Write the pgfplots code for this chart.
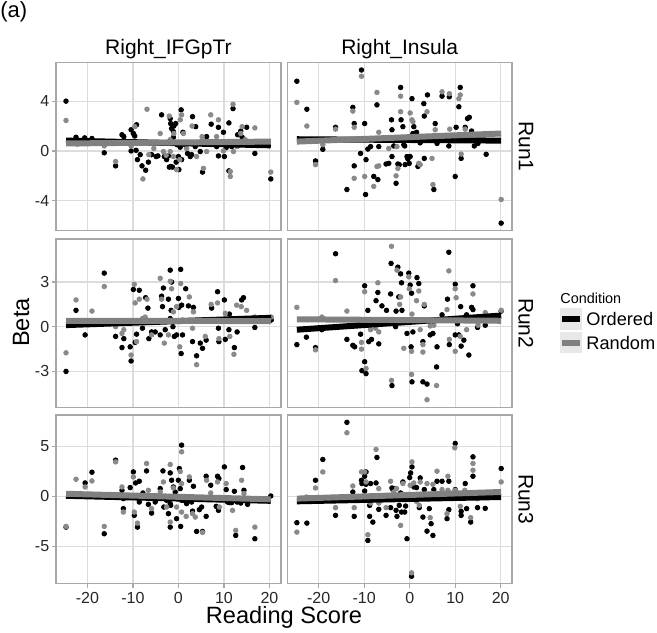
\documentclass[border=0pt]{standalone}
\usepackage{pgfplots}
\pgfplotsset{compat=1.18}
\usepackage{fontspec}
\setmainfont{Liberation Sans}
\definecolor{ptgray}{HTML}{8A8A8A}
\definecolor{lngray}{HTML}{808080}
\definecolor{bordergray}{HTML}{A8A8A8}
\definecolor{gridgray}{HTML}{DCDCDC}
\definecolor{keybg}{HTML}{E8E8E8}
\tikzset{runlab/.style={rotate=-90, yshift=6.9pt, anchor=center, font=\fontsize{10.5}{12}\selectfont}}
\pgfplotsset{
 panel/.style={scale only axis, width=112.4pt, height=84.15pt, xmin=-26.9, xmax=22.5, xtick={-20,-10,0,10,20},
   clip mode=individual,
   axis line style={draw=bordergray, line width=0.75pt},
   grid=major, major grid style={draw=gridgray, line width=0.6pt},
   tick style={draw=bordergray, line width=0.6pt}, tick align=outside, major tick length=2.2pt,
   xtick pos=bottom, ytick pos=left,
   ticklabel style={font=\fontsize{8}{9}\selectfont, text=black!85, inner sep=0pt},
   xticklabel shift=2.3pt, yticklabel shift=1pt,
   /pgf/number format/assume math mode=true},
 nox/.style={xticklabels={}, xtick style={draw=none}},
 noy/.style={yticklabels={}, ytick style={draw=none}},
 ord/.style={only marks, mark=*, mark size=1.15pt, draw=black, fill=black, mark options={draw=black, fill=black}},
 rnd/.style={only marks, mark=*, mark size=1.15pt, draw=ptgray, fill=ptgray, mark options={draw=ptgray, fill=ptgray}},
 ordl/.style={no marks, draw=black, line width=3pt},
 rndl/.style={no marks, draw=lngray, line width=3pt},
 row1/.style={ymin=-6.4, ymax=7.12, ytick={-4,0,4}},
 row2/.style={ymin=-5.41, ymax=5.89, ytick={-3,0,3}},
 row3/.style={ymin=-8.67, ymax=8.1, ytick={-5,0,5}},
}
\begin{document}
\begin{tikzpicture}
\path[use as bounding box] (0,0) rectangle (328.5pt,-316pt);
% ---------- Row 1, Right_IFGpTr
\begin{axis}[panel, row1, nox, at={(28pt,-31.15pt)}, anchor=north west]
\addplot[ord] coordinates {(-24.7,4.0) (-22.5,1.1) (-20.6,1.05) (-19.0,1.0) (-16.3,-0.15) (-13.8,-1.2) (-12.4,1.3) (-12.0,1.15) (-10.4,1.7) (-9.9,1.4) (-9.6,1.2) (-9.2,2.1) (-10.4,0) (-9.3,0.05) (-9.0,-0.7) (-8.4,-0.3) (-8.0,-1.2) (-7.2,-1.55) (-6.6,-0.9) (-5.9,-0.3) (-4.9,-0.45) (-3.7,2.9) (-3.1,-0.45) (-2.2,-0.4) (-1.8,2.6) (-1.7,2.2) (-1.5,1.8) (-1.1,1.55) (-1.0,2.0) (-0.6,2.2) (0.6,3.3) (0.4,0.3) (0.0,-0.45) (0.1,-1.5) (-0.5,-0.9) (-1.7,-1.25) (-2.6,-0.7) (-1.1,1.1) (0.7,-0.7) (3.1,2.75) (3.8,1.95) (3.7,0.35) (2.9,-0.3) (2.6,-0.45) (4.8,-0.05) (5.3,-1.7) (6.2,1.15) (7.2,2.15) (8.8,1.9) (8.8,-0.4) (8.4,0.35) (10.1,-0.45) (9.9,1.5) (11.1,2.25) (11.1,-1.6) (11.7,0.35) (12.0,3.4) (13.0,1.3) (13.7,1.6) (14.0,1.1) (15.0,1.9) (16.8,-0.2) (20.3,-2.25) (10.5,0.27) (13.0,0.4) (-2.0,-1.3) (-1.3,-1.3) (-0.3,0.5) (1.5,0.5) (2.0,-0.2) (-4.5,-0.4) (1.0,1.5)};
\addplot[rnd] coordinates {(-24.7,2.45) (-22.2,0.55) (-13.8,-0.85) (-12.0,0.6) (-9.6,1.95) (-7.8,-2.25) (-6.9,3.35) (-4.0,1.4) (-2.7,-0.35) (-1.8,0.9) (-0.4,-1.5) (0.4,2.5) (0.7,2.9) (-1.8,-0.05) (1.1,1.4) (3.0,2.0) (5.5,-1.4) (5.2,1.15) (7.1,2.9) (8.8,2.5) (11.4,-1.65) (11.4,-2.05) (12.0,3.75) (12.9,0.35) (14.0,1.95) (14.7,0.9) (16.8,1.85) (20.3,-1.7) (6.2,-0.05) (8.4,1.15) (12.1,-0.05) (4.0,-0.45) (-4.7,0.6) (-5.4,0.2) (-6.5,-0.3) (1.8,0.2) (-3.3,-0.05) (-1.1,-0.45) (0.3,-0.7) (-20.6,0.7) (-19.0,0.75) (-16.3,0.4) (-10.4,0.4) (-9.0,0.6) (-2.0,2.8) (-1.0,1.4) (2.5,0.6) (9.9,0.0) (13.7,1.4)};
\addplot[ordl] coordinates {(-24.7,0.83) (20.3,0.45)};
\addplot[rndl] coordinates {(-24.7,0.6) (20.3,0.75)};
\node[anchor=base, font=\fontsize{10.5}{12}\selectfont] at (rel axis cs:0.5,1) [yshift=4pt] {Right\_IFGpTr};
\end{axis}
% ---------- Row 1, Right_Insula
\begin{axis}[panel, row1, nox, noy, at={(143.65pt,-31.15pt)}, anchor=north west]
\addplot[ord] coordinates {(-24.8,5.6) (-22.6,3.35) (-20.7,-0.8) (-19.1,0.13) (-16.3,1.9) (-13.8,-3.1) (-12.5,3.5) (-12.2,2.2) (-12.2,-1.2) (-10.6,6.5) (-9.9,2.2) (-10.8,-0.2) (-9.6,-0.7) (-9.2,0.15) (-8.6,0.35) (-9.7,-3.5) (-7.9,-2.05) (-7.0,-2.3) (-7.2,3.7) (-6.8,0.35) (-5.2,-1.05) (-4.6,-1.0) (-4.0,2.5) (-3.9,1.7) (-3.5,0.4) (-3.1,0.9) (-3.0,-2.6) (-2.6,-1.05) (-2.3,-1.1) (-2.0,5.1) (-1.9,2.5) (-1.5,1.95) (-1.3,0.5) (-1.1,0.4) (-0.6,-0.45) (-0.4,-0.65) (0.1,-0.45) (0.5,4.2) (0.7,1.4) (0.9,1.95) (1.5,1.5) (1.8,-1.25) (2.3,0.65) (3.2,-0.6) (3.1,3.8) (3.2,2.8) (3.9,4.5) (5.6,2.2) (5.3,-3.1) (6.0,0.6) (7.1,4.4) (8.7,4.35) (8.6,0.4) (10.0,-2.05) (10.2,1.9) (10.8,3.55) (11.1,5.1) (11.3,-0.6) (12.2,1.9) (12.7,2.6) (13.1,2.7) (13.6,1.6) (14.2,0.4) (15.0,0.6) (16.8,-0.27) (20.1,-5.8) (-1.0,-1.1) (-0.1,-1.0) (-3.9,-0.45)};
\addplot[rnd] coordinates {(-24.8,3.9) (-22.6,2.0) (-20.7,-1.1) (-19.1,0.5) (-16.3,1.75) (-12.5,3.2) (-12.2,1.9) (-12.2,-2.2) (-10.6,6.0) (-9.9,-2.05) (-7.9,-2.85) (-7.2,4.7) (-6.8,1.5) (-7.2,-1.25) (-6.8,-1.2) (-4.6,0.2) (-3.0,-2.0) (-2.0,4.4) (-2.0,3.15) (-2.6,-1.4) (0.1,3.05) (0.5,2.5) (0.7,2.35) (2.0,-1.0) (2.3,-1.1) (3.8,3.15) (4.9,-0.6) (5.1,-2.7) (5.6,1.7) (7.1,4.75) (8.7,4.6) (8.8,1.75) (10.8,4.2) (11.1,4.5) (11.3,-0.25) (12.2,1.75) (20.1,-3.9) (-3.9,1.0) (-1.3,1.0) (1.2,0.9) (-2.8,0.35)};
\addplot[ordl] coordinates {(-24.8,0.94) (20.1,0.83)};
\addplot[rndl] coordinates {(-24.8,0.75) (20.1,1.4)};
\node[anchor=base, font=\fontsize{10.5}{12}\selectfont] at (rel axis cs:0.5,1) [yshift=4pt] {Right\_Insula};
\node[runlab] at (rel axis cs:1,0.5) {Run1};
\end{axis}
% ---------- Row 2, Right_IFGpTr
\begin{axis}[panel, row2, nox, at={(28pt,-119.5pt)}, anchor=north west]
\addplot[ord] coordinates {(-24.7,-3.0) (-22.5,1.1) (-20.5,-0.55) (-16.3,3.6) (-13.8,-0.65) (-12.4,-1.4) (-12.0,-0.8) (-10.6,-1.35) (-10.4,-2.3) (-9.9,2.5) (-9.5,-1.05) (-9.2,-0.5) (-8.6,2.45) (-7.9,-0.1) (-7.2,1.95) (-6.7,1.25) (-6.5,-0.8) (-5.9,-0.35) (-5.1,-0.35) (-4.0,-0.55) (-3.7,2.05) (-3.5,1.35) (-3.3,2.6) (-2.9,-0.2) (-2.2,1.85) (-1.8,3.8) (-1.5,3.0) (-1.8,0.55) (-1.6,1.1) (-1.2,0) (-0.9,-0.65) (-0.4,-0.55) (0,1.9) (0.1,1.3) (0.5,3.85) (0.6,-1.8) (0.9,-0.55) (0.7,1.45) (1.6,2.55) (2.2,1.4) (3.1,-1.0) (3.3,1.3) (4.0,-1.95) (4.8,-1.1) (5.3,-1.45) (6.1,-0.9) (7.3,1.25) (8.6,2.35) (8.8,-0.1) (8.9,-1.0) (10.1,1.8) (10.3,-0.85) (11.1,-0.2) (11.2,0.85) (12.3,-1.4) (12.9,-0.35) (13.9,1.8) (14.3,1.95) (16.8,-0.05) (20.4,0.45)};
\addplot[rnd] coordinates {(-24.7,-1.75) (-22.5,1.8) (-19.0,1.05) (-16.3,2.7) (-13.8,0) (-12.4,-0.45) (-12.0,-0.2) (-10.4,-1.9) (-9.7,2.85) (-9.5,1.6) (-9.2,-1.0) (-8.6,1.85) (-7.9,0.55) (-6.9,1.85) (-7.3,0.65) (-5.9,-0.55) (-4.0,3.25) (-3.7,1.85) (-3.1,-1.1) (-2.2,-0.55) (-1.8,3.05) (-1.5,2.55) (-1.1,1.0) (-0.4,1.35) (0.3,-1.35) (0.5,2.9) (0.9,0.45) (2.4,2.0) (3.1,-0.1) (3.3,1.0) (4.0,-2.55) (4.8,0.45) (5.9,-0.65) (7.2,1.5) (8.6,1.6) (8.9,-0.8) (10.3,0.9) (11.3,-0.65) (12.2,-1.85) (12.8,1.45) (13.8,1.35) (15.0,1.1) (16.8,0.65) (20.4,0.65)};
\addplot[ordl] coordinates {(-24.7,0.11) (20.4,0.6)};
\addplot[rndl] coordinates {(-24.7,0.4) (20.4,0.38)};
\end{axis}
% ---------- Row 2, Right_Insula
\begin{axis}[panel, row2, nox, noy, at={(143.65pt,-119.5pt)}, anchor=north west]
\addplot[ord] coordinates {(-24.8,-1.2) (-22.7,-0.7) (-20.7,-1.4) (-19.3,-0.2) (-16.3,4.9) (-13.8,-0.85) (-12.5,-1.25) (-12.1,-1.35) (-10.8,-0.5) (-10.5,-2.95) (-9.9,-2.35) (-9.6,-3.15) (-9.9,2.75) (-9.2,1.1) (-9.0,-1.0) (-8.4,-0.85) (-7.4,1.75) (-7.0,2.3) (-6.8,-1.15) (-6.1,1.4) (-5.1,1.1) (-4.2,2.2) (-4.1,4.25) (-3.9,-3.95) (-3.1,0) (-3.0,1.05) (-2.6,4.0) (-2.4,2.0) (-2.0,3.55) (-1.8,2.95) (-1.7,1.1) (-0.6,-0.45) (-0.2,3.6) (0.1,2.8) (0.3,-1.35) (0.5,-3.7) (0.7,-0.35) (0.4,2.25) (1.6,3.3) (2.0,2.9) (2.9,-1.0) (2.9,-3.7) (3.2,1.4) (3.8,-3.85) (4.5,-0.55) (5.1,-0.45) (5.9,-2.7) (6.0,-1.35) (7.1,0.8) (8.3,1.85) (8.6,5.0) (8.7,-1.2) (10.0,2.85) (10.0,-0.55) (10.5,0.2) (10.8,-0.55) (11.2,1.35) (11.3,-1.3) (11.9,-0.9) (12.5,0.8) (13.0,-1.9) (13.6,1.3) (13.9,2.75) (13.9,1.15) (14.9,-0.05) (16.6,0.1) (20.1,1.05)};
\addplot[rnd] coordinates {(-24.8,1.3) (-20.7,-1.55) (-19.3,0.65) (-16.3,3.1) (-13.8,1.05) (-10.6,-1.05) (-10.6,-1.5) (-9.9,2.35) (-9.6,-2.8) (-8.6,-0.2) (-7.0,2.95) (-6.8,-0.35) (-4.0,5.4) (-4.0,-3.6) (-2.8,3.8) (-2.0,2.0) (-2.2,1.5) (-1.3,-1.45) (-0.2,3.35) (-0.1,2.55) (0.4,-3.2) (0.5,0.85) (0.4,-1.65) (1.5,1.75) (2.0,2.4) (2.9,-1.2) (2.9,-1.7) (3.2,1.5) (3.8,-4.9) (4.5,0.05) (5.3,0.1) (5.9,-3.95) (8.2,1.15) (8.6,3.75) (8.7,-0.85) (10.0,2.55) (10.2,1.95) (10.0,-1.65) (11.1,-0.65) (12.5,-0.2) (13.9,2.2) (15.0,0.1) (16.6,0.95) (20.1,1.1) (-7.5,-0.1) (2.3,-0.2)};
\addplot[ordl] coordinates {(-24.8,-0.2) (20.1,0.75)};
\addplot[rndl] coordinates {(-24.8,0.5) (20.1,0.4)};
\node[runlab] at (rel axis cs:1,0.5) {Run2};
\end{axis}
% ---------- Row 3, Right_IFGpTr
\begin{axis}[panel, row3, at={(28pt,-207.5pt)}, anchor=north west]
\addplot[ord] coordinates {(-24.7,-3.07) (-20.5,1.33) (-19.0,2.4) (-16.3,-3.73) (-13.8,3.6) (-12.4,0.6) (-12.1,-0.23) (-12.1,-1.23) (-10.6,0.87) (-9.9,2.43) (-9.7,-1.9) (-9.4,1.33) (-9.0,-3.07) (-8.6,1.5) (-8.6,-0.57) (-7.8,0.33) (-7.0,2.53) (-6.6,-0.8) (-5.9,-1.67) (-5.1,-0.57) (-4.0,0.77) (-3.4,2.53) (-3.2,-1.07) (-2.6,-0.4) (-2.2,-1.73) (-1.8,2.33) (-1.8,-0.73) (-1.7,-0.9) (-1.8,-3.07) (-1.5,1.6) (-1.1,0.93) (-0.7,0.43) (-0.4,-2.23) (0,1.6) (0.2,2.77) (0.4,0.77) (0.5,-3.0) (0.7,5.1) (0.7,-0.4) (1.1,-0.4) (1.8,-0.73) (2.4,1.6) (2.9,-0.57) (3.1,-1.47) (3.3,1.0) (4.0,-3.5) (4.6,-1.33) (5.1,-1.07) (5.3,-3.5) (6.1,2.0) (6.1,-2.0) (7.1,1.1) (8.3,-1.0) (8.6,2.0) (8.8,-1.4) (8.9,1.77) (10.1,2.93) (10.5,0.67) (10.8,-0.57) (11.2,-0.63) (11.7,-0.63) (12.3,0.5) (12.6,-3.9) (12.9,-0.57) (13.7,-0.67) (14.1,2.87) (14.4,0.6) (15.2,-0.8) (16.8,-4.23) (20.3,0.03)};
\addplot[rnd] coordinates {(-24.7,-3.0) (-22.5,1.7) (-20.5,0.93) (-19.0,1.53) (-16.3,-3.0) (-13.8,3.43) (-12.4,0.93) (-12.1,-1.57) (-9.9,1.93) (-9.7,-1.57) (-9.0,-2.67) (-7.0,3.27) (-6.6,0.6) (-5.9,-1.23) (-4.0,0.43) (-3.3,1.43) (-2.6,-1.07) (-1.8,3.17) (-1.8,-2.57) (-1.1,0.83) (-0.4,-1.07) (0.4,2.47) (0.7,4.43) (0.7,1.27) (0.7,-1.57) (1.7,-2.0) (2.4,1.93) (3.1,-1.73) (3.7,-2.07) (5.3,-3.6) (6.2,1.6) (7.1,0.33) (8.6,1.43) (9.0,-1.07) (10.5,1.27) (11.9,-1.4) (12.6,-3.4) (13.9,1.6) (14.4,0.27) (16.8,-3.07)};
\addplot[ordl] coordinates {(-24.7,0.05) (20.3,-0.45)};
\addplot[rndl] coordinates {(-24.7,0.25) (20.3,-0.3)};
\end{axis}
% ---------- Row 3, Right_Insula
\begin{axis}[panel, row3, noy, at={(143.65pt,-207.5pt)}, anchor=north west]
\addplot[ord] coordinates {(-24.8,-2.63) (-22.6,-2.67) (-20.7,1.6) (-19.1,3.67) (-16.3,-1.9) (-13.8,7.37) (-12.5,0.43) (-12.2,-2.0) (-10.6,1.6) (-10.5,1.27) (-9.9,2.0) (-9.6,2.43) (-9.6,1.2) (-9.9,0.53) (-8.8,-0.9) (-8.6,1.27) (-8.1,-2.57) (-9.2,-4.4) (-8.8,-2.0) (-7.4,1.33) (-7.2,3.87) (-6.8,-1.3) (-5.2,-1.9) (-4.2,-1.13) (-3.9,0.83) (-3.7,0.67) (-3.4,0.77) (-3.0,-1.4) (-2.8,-2.0) (-2.3,-0.9) (-2.0,0.33) (-1.8,-1.57) (-1.5,1.43) (-1.1,-1.57) (-0.9,-0.97) (-0.6,-4.23) (0,1.87) (0.2,2.33) (0.5,2.93) (0.4,-7.97) (0.9,0.93) (1.5,0.87) (2.1,-1.13) (2.3,1.83) (2.9,-2.07) (3.2,0.67) (3.8,-3.47) (4.3,-1.23) (4.7,-2.73) (5.1,-3.9) (5.3,0.67) (6.0,1.5) (7.1,1.5) (8.6,1.5) (8.6,-1.33) (8.2,-2.23) (10.0,5.27) (10.0,0.67) (11.3,-1.5) (11.3,-1.9) (12.2,1.27) (12.5,-1.23) (13.4,-2.57) (13.9,2.0) (13.9,3.93) (14.9,-1.13) (16.6,-1.2) (20.1,2.77)};
\addplot[rnd] coordinates {(-24.8,-3.57) (-22.7,-0.07) (-20.7,0.83) (-19.1,2.43) (-16.3,-1.13) (-13.8,6.33) (-12.5,1.03) (-12.2,-1.13) (-10.6,2.43) (-9.9,2.43) (-9.6,1.43) (-9.2,-3.83) (-8.8,-0.07) (-8.6,-0.67) (-7.4,4.67) (-6.8,0.77) (-6.8,-0.67) (-5.2,-1.13) (-4.2,1.5) (-3.5,0.43) (-2.9,0.77) (-2.0,-2.9) (-1.8,-0.07) (-1.5,1.27) (0.1,1.1) (0.5,3.43) (0.4,-7.63) (0.9,1.33) (1.5,-0.5) (2.1,-0.9) (2.3,1.43) (3.8,1.27) (4.5,-2.13) (5.1,1.2) (6.0,2.5) (7.1,0.67) (8.4,2.0) (8.2,-1.73) (8.4,0.6) (9.9,4.83) (10.0,0.6) (11.1,-1.0) (12.1,0.6) (13.4,-2.13) (13.9,3.27) (13.9,2.6) (15.0,-0.23) (20.1,1.43)};
\addplot[ordl] coordinates {(-24.8,-0.5) (20.1,-0.07)};
\addplot[rndl] coordinates {(-24.8,-0.23) (20.1,0.43)};
\node[runlab] at (rel axis cs:1,0.5) {Run3};
\end{axis}
% ---------- titles
\node[anchor=north west, inner sep=0pt, font=\fontsize{11}{13}\selectfont] at (0pt,-0.5pt) {(a)};
\node[rotate=90, anchor=center, font=\fontsize{11.8}{14}\selectfont] at (10.5pt,-161.25pt) {Beta};
\node[anchor=base, font=\fontsize{11.8}{14}\selectfont] at (142pt,-311.5pt) {Reading Score};
% ---------- legend
\node[anchor=base west, inner sep=0pt, font=\fontsize{7.2}{9}\selectfont] at (280pt,-151.5pt) {Condition};
\fill[keybg] (280pt,-154pt) rectangle (291pt,-165pt);
\fill[keybg] (280pt,-166pt) rectangle (291pt,-176.5pt);
\draw[black, line width=3pt] (281pt,-159.5pt) -- (290pt,-159.5pt);
\draw[lngray, line width=3pt] (281pt,-171.25pt) -- (290pt,-171.25pt);
\node[anchor=base west, inner sep=0pt, font=\fontsize{9.1}{11}\selectfont] at (293pt,-162.9pt) {Ordered};
\node[anchor=base west, inner sep=0pt, font=\fontsize{9.1}{11}\selectfont] at (293pt,-174.5pt) {Random};
\end{tikzpicture}
\end{document}
